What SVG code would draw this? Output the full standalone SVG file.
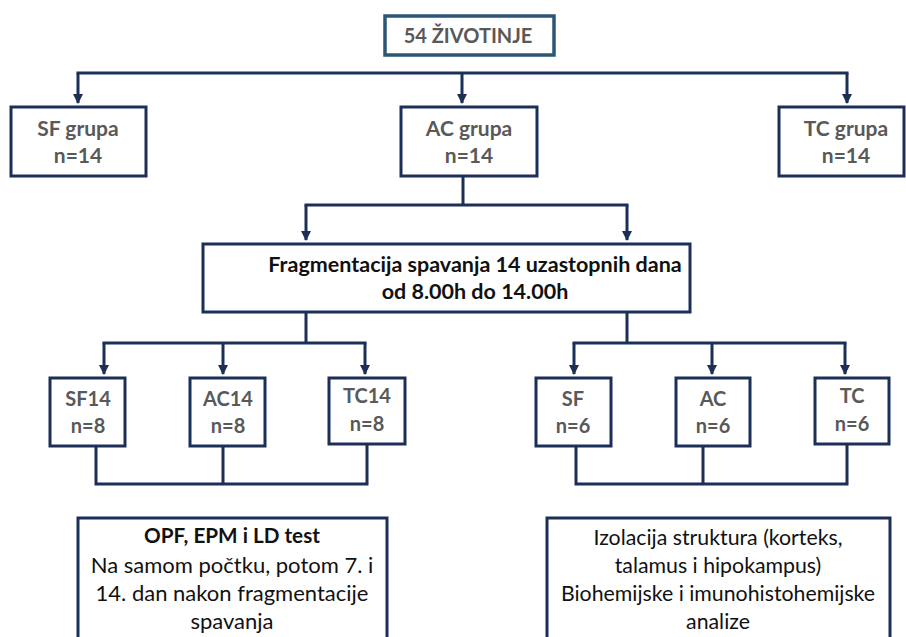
<svg xmlns="http://www.w3.org/2000/svg" width="906" height="637" viewBox="0 0 906 637">
<defs>
<marker id="ah" markerWidth="10" markerHeight="10" refX="9" refY="5" orient="auto" markerUnits="userSpaceOnUse" viewBox="0 0 10 10">
<path d="M0,0 L10,5 L0,10 Z" fill="#1c2f56"/>
</marker>
<style>
.box{fill:#fff;stroke:#1c2f56;stroke-width:3}
.top{fill:#fff;stroke:#2d5674;stroke-width:3.5}
.ln{fill:none;stroke:#1c2f56;stroke-width:3}
.g{font-family:Lato,"Open Sans","Liberation Sans",sans-serif;font-weight:bold;fill:#595959;text-anchor:middle;font-size:20px}
.g21{font-size:21px}
.k{font-family:Lato,"Open Sans","Liberation Sans",sans-serif;fill:#111;text-anchor:middle;font-size:22px}
.kb{font-weight:bold}
.fr{font-size:21.5px}
.op{font-size:20.7px}
.iz{font-size:21.3px}
</style>
</defs>
<rect width="906" height="637" fill="#fff"/>
<g id="connectors">
<path class="ln" d="M76.5,73 H848.5"/>
<path class="ln" d="M78,73 V103" marker-end="url(#ah)"/>
<path class="ln" d="M462,73 V103" marker-end="url(#ah)"/>
<path class="ln" d="M847,73 V103" marker-end="url(#ah)"/>
<path class="ln" d="M463,176 V205 M304.5,205 H628.5"/>
<path class="ln" d="M306,205 V240" marker-end="url(#ah)"/>
<path class="ln" d="M627,205 V240" marker-end="url(#ah)"/>
<path class="ln" d="M306,312 V343 M102.5,343 H366.5"/>
<path class="ln" d="M104,343 V374" marker-end="url(#ah)"/>
<path class="ln" d="M223,343 V374" marker-end="url(#ah)"/>
<path class="ln" d="M365,343 V374" marker-end="url(#ah)"/>
<path class="ln" d="M627,312 V343 M572.5,343 H846.5"/>
<path class="ln" d="M574,343 V374" marker-end="url(#ah)"/>
<path class="ln" d="M712,343 V374" marker-end="url(#ah)"/>
<path class="ln" d="M845,343 V374" marker-end="url(#ah)"/>
<path class="ln" d="M96,446 V484 H367 V444 M223,446 V484"/>
<path class="ln" d="M576,446 V484 H847 V444 M703,446 V484"/>
</g>
<g id="n-zivotinje">
<rect class="top" x="385" y="16" width="169" height="39"/>
<text class="g" x="468" y="43">54 ŽIVOTINJE</text>
</g>
<g id="n-sf-grupa">
<rect class="box" x="11" y="107" width="135" height="69"/>
<text class="g g21" x="78" y="136">SF grupa</text>
<text class="g g21" x="78" y="163">n=14</text>
</g>
<g id="n-ac-grupa">
<rect class="box" x="401" y="107" width="136" height="69"/>
<text class="g g21" x="469" y="136">AC grupa</text>
<text class="g g21" x="469" y="163">n=14</text>
</g>
<g id="n-tc-grupa">
<rect class="box" x="779" y="107" width="125" height="69"/>
<text class="g g21" x="846" y="136">TC grupa</text>
<text class="g g21" x="846" y="163">n=14</text>
</g>
<g id="n-fragmentacija">
<rect class="box" x="203" y="244" width="487" height="68"/>
<text class="k kb fr" x="475" y="272">Fragmentacija spavanja 14 uzastopnih dana</text>
<text class="k kb fr" x="475" y="299">od 8.00h do 14.00h</text>
</g>
<g id="n-sf14">
<rect class="box" x="50" y="378" width="75" height="68"/>
<text class="g" x="88" y="406">SF14</text>
<text class="g" x="88" y="433">n=8</text>
</g>
<g id="n-ac14">
<rect class="box" x="190" y="378" width="75" height="68"/>
<text class="g" x="228" y="406">AC14</text>
<text class="g" x="228" y="433">n=8</text>
</g>
<g id="n-tc14">
<rect class="box" x="329" y="378" width="76" height="66"/>
<text class="g" x="367" y="403">TC14</text>
<text class="g" x="367" y="431">n=8</text>
</g>
<g id="n-sf">
<rect class="box" x="536" y="378" width="75" height="68"/>
<text class="g" x="573" y="406">SF</text>
<text class="g" x="573" y="433">n=6</text>
</g>
<g id="n-ac">
<rect class="box" x="676" y="378" width="74" height="68"/>
<text class="g" x="713" y="406">AC</text>
<text class="g" x="713" y="433">n=6</text>
</g>
<g id="n-tc">
<rect class="box" x="815" y="378" width="74" height="66"/>
<text class="g" x="852" y="403">TC</text>
<text class="g" x="852" y="431">n=6</text>
</g>
<g id="n-opf">
<rect class="box" x="78" y="518" width="309" height="130"/>
<text class="k kb op" x="232" y="543">OPF, EPM i LD test</text>
<text class="k" x="232" y="573">Na samom počtku, potom 7. i</text>
<text class="k" x="232" y="601">14. dan nakon fragmentacije</text>
<text class="k" x="232" y="629">spavanja</text>
</g>
<g id="n-izolacija">
<rect class="box" x="547" y="518" width="343" height="130"/>
<text class="k iz" x="718" y="545">Izolacija struktura (korteks,</text>
<text class="k iz" x="718" y="573">talamus i hipokampus)</text>
<text class="k iz" x="718" y="601">Biohemijske i imunohistohemijske</text>
<text class="k iz" x="718" y="629">analize</text>
</g>
</svg>
